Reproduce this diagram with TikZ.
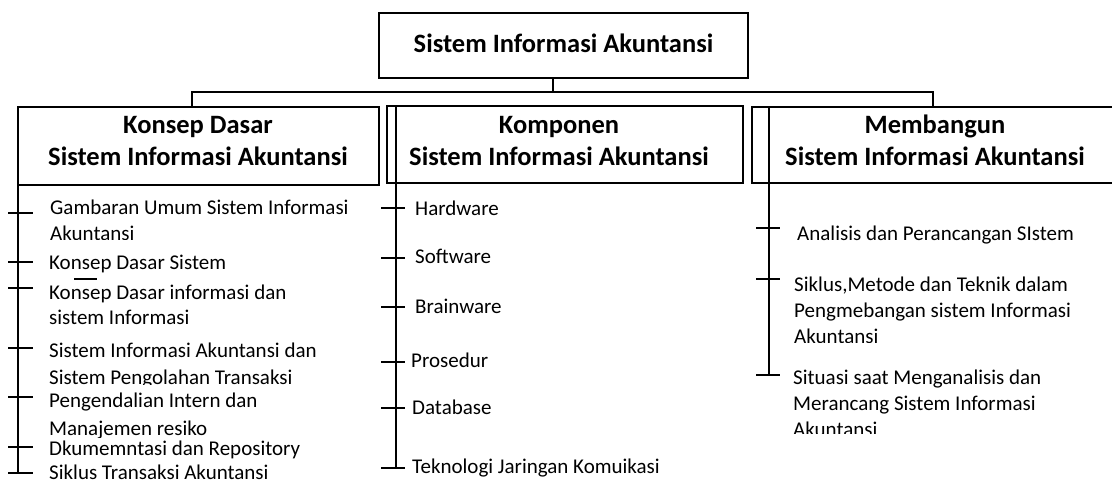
\documentclass[tikz,border=0pt]{standalone}
\usepackage{fontspec}
\setmainfont{Carlito}
\newcommand{\itemfont}{\fontsize{21}{25.5}\selectfont}
\newcommand{\headfont}{\fontsize{26.5}{30}\selectfont\bfseries}
\begin{document}
\begin{tikzpicture}[x=1pt,y=-1pt,
  boxn/.style={draw, line width=1.6pt, inner sep=0pt, outer sep=0pt},
  headn/.style={anchor=base, inner sep=0pt, font=\headfont},
  itemn/.style={anchor=base west, inner sep=0pt, font=\itemfont},
  conn/.style={line width=1.4pt},
  spine/.style={line width=1.7pt},
  tick/.style={line width=1.5pt}]
\useasboundingbox (0,0) rectangle (1112,481);

% root and the three topic boxes
\node[boxn, minimum width=369pt, minimum height=65pt] (top) at (563.5,45.5) {};
\node[headn] (topt) at (563.5,53) {Sistem Informasi Akuntansi};

\node[boxn, minimum width=361pt, minimum height=78pt] (b1) at (198.5,146) {};
\node[boxn, minimum width=356pt, minimum height=77pt] (b2) at (565,144.5) {};
\node[boxn, minimum width=362pt, minimum height=76pt] (b3) at (933,145) {};

\node[headn] (b1a) at (198,134) {Konsep Dasar};
\node[headn] (b1b) at (198,166) {Sistem Informasi Akuntansi};
\node[headn] (b2a) at (559,134) {Komponen};
\node[headn] (b2b) at (559,166) {Sistem Informasi Akuntansi};
\node[headn] (b3a) at (935,134) {Membangun};
\node[headn] (b3b) at (935,166) {Sistem Informasi Akuntansi};

% tree connectors
\coordinate (j0) at (553,92);
\coordinate (jl) at (192,92);
\coordinate (jr) at (933,92);
\draw[conn] (j0 |- top.south) -- (j0);
\draw[conn] (jl |- b1.north) -- (jl) -- (jr) -- (jr |- b3.north);

% spines of the three lists
\coordinate (s1) at (18,473);
\coordinate (s2) at (396,468);
\coordinate (s3) at (769,375);
\draw[spine] (s1 |- b1.north) -- (s1);
\draw[spine] (s2 |- b2.north) -- (s2);
\draw[spine] (s3 |- b3.north) -- (s3);

% ticks on the spines
\foreach \y in {213,262,288,348,397,447,473}
  \draw[tick] (8,\y) -- (33,\y);
\foreach \y in {208,258,307,362,408,468}
  \draw[tick] (381,\y) -- (405,\y);
\foreach \y in {228,279,375}
  \draw[tick] (756,\y) -- (780,\y);

% first list
\node[itemn] (i11) at (50,215) {Gambaran Umum Sistem Informasi};
\begin{scope}
  \clip (0,200) rectangle (380,240);
  \node[itemn] (i11b) at (50,240.5) {Akuntansi};
\end{scope}
\node[itemn] (i12) at (49,270) {Konsep Dasar Sistem};
\node[itemn] (i13) at (49,300) {Konsep Dasar informasi dan};
\node[itemn] (i13b) at (49,324) {sistem Informasi};
\coordinate (ov) at (74,279);
\draw[line width=1.2pt] (ov) -- ++(23,0);
\node[itemn] (i14) at (49,357) {Sistem Informasi Akuntansi dan};
\begin{scope}
  \clip (0,360) rectangle (380,384.5);
  \node[itemn] (i14b) at (49,384) {Sistem Pengolahan Transaksi};
\end{scope}
\node[itemn] (i15) at (49,407) {Pengendalian Intern dan};
\begin{scope}
  \clip (0,410) rectangle (380,437.5);
  \node[itemn] (i15b) at (49,435) {Manajemen resiko};
\end{scope}
\node[itemn] (i16) at (49,455) {Dkumemntasi dan Repository};
\node[itemn] (i17) at (49,479) {Siklus Transaksi Akuntansi};

% second list
\node[itemn] (i21) at (415,216) {Hardware};
\node[itemn] (i22) at (415,264) {Software};
\node[itemn] (i23) at (415,313) {Brainware};
\node[itemn] (i24) at (411,367) {Prosedur};
\node[itemn] (i25) at (412,414) {Database};
\node[itemn] (i26) at (412,473) {Teknologi Jaringan Komuikasi};

% third list
\node[itemn] (i31) at (797,241) {Analisis dan Perancangan SIstem};
\node[itemn] (i32) at (794,292) {Siklus,Metode dan Teknik dalam};
\node[itemn] (i32b) at (794,318) {Pengmebangan sistem Informasi};
\begin{scope}
  \clip (740,320) rectangle (1112,342);
  \node[itemn] (i32c) at (794,344) {Akuntansi};
\end{scope}
\node[itemn] (i33) at (793,384) {Situasi saat Menganalisis dan};
\node[itemn] (i33b) at (793,410) {Merancang Sistem Informasi};
\begin{scope}
  \clip (740,415) rectangle (1112,433.5);
  \node[itemn] (i33c) at (793,436) {Akuntansi};
\end{scope}
\end{tikzpicture}
\end{document}
